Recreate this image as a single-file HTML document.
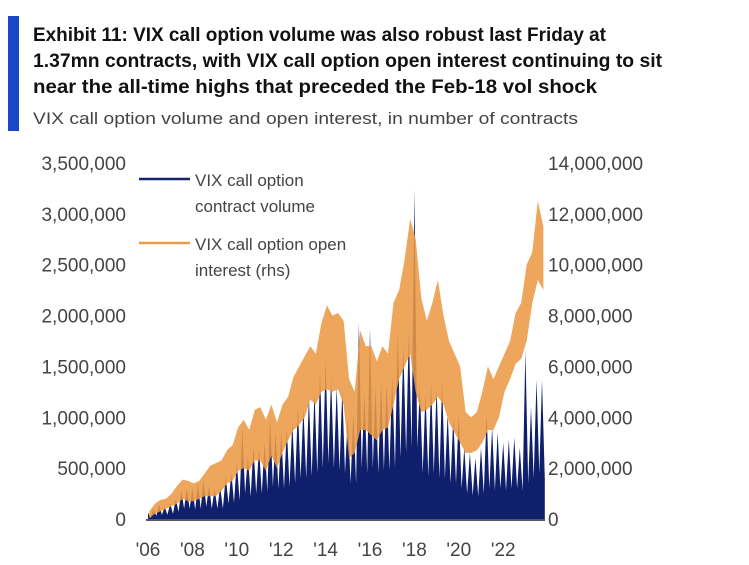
<!DOCTYPE html>
<html><head><meta charset="utf-8"><style>
html,body{margin:0;padding:0;background:#fff;}
svg{display:block;font-family:"Liberation Sans",sans-serif;}
</style></head><body>
<svg id="chart" width="749" height="565" viewBox="0 0 749 565">
<rect x="8" y="16" width="11" height="115" fill="#1a47c8"/>
<g font-weight="bold" font-size="19" fill="#111">
<text x="33" y="41" textLength="573" lengthAdjust="spacingAndGlyphs">Exhibit 11: VIX call option volume was also robust last Friday at</text>
<text x="33" y="67" textLength="629" lengthAdjust="spacingAndGlyphs">1.37mn contracts, with VIX call option open interest continuing to sit</text>
<text x="33" y="93" textLength="564" lengthAdjust="spacingAndGlyphs">near the all-time highs that preceded the Feb-18 vol shock</text>
</g>
<text x="33" y="124" font-size="17" fill="#444" textLength="545" lengthAdjust="spacingAndGlyphs">VIX call option volume and open interest, in number of contracts</text>
<g id="plot"></g>
<g id="axes"></g>
<g font-size="17" fill="#444">
<g>
<line x1="139" y1="179" x2="190" y2="179" stroke="#13236e" stroke-width="2.5"/>
<text x="195" y="186">VIX call option</text>
<text x="195" y="212">contract volume</text>
</g>
<g>
<line x1="139" y1="243" x2="190" y2="243" stroke="#eb9a45" stroke-width="2.5"/>
<text x="195" y="250">VIX call option open</text>
<text x="195" y="276">interest (rhs)</text>
</g>
</g>
</svg>
<script>
// quarterly, starting 2006 Q1; values in thousands of contracts
const startYear = 2006;
const volHigh = [60,100,140,120, 150,200,280,300, 300,350,380,330, 300,320,420,460,
  560,900,620,720, 700,760,1000,850, 850,900,950,1100, 1100,1200,1250,1450,
  1560,1400,1300,1270, 1000,1040,1930,1240, 1870,1300,1370,1350, 1400,1860,1700,1860,
  3240,1300,1250,1350, 1300,1350,1040,1000, 1050,700,650,600, 700,1040,900,850,
  750,780,800,700, 1660,1100,1370,1370];
const volLow = [10,30,40,40, 50,70,100,100, 90,100,120,100, 100,100,150,160,
  180,250,220,250, 250,270,320,300, 300,320,350,400, 400,420,450,500,
  550,500,480,450, 350,350,500,450, 500,450,480,480, 500,600,650,700,
  700,450,420,450, 400,400,350,350, 300,250,230,220, 250,300,280,300,
  280,300,300,280, 350,400,450,400];
const oiHigh = [300,600,750,800, 1000,1300,1550,1500, 1400,1500,1800,2100, 2200,2300,2700,2900,
  3600,3900,3500,4300, 4400,3900,4500,3800, 4500,4800,5600,6000, 6400,6800,6500,7700,
  8400,8000,8100,7800, 5500,5000,7400,6800, 6800,6200,6800,6500, 8500,9000,10200,11800,
  11000,8700,7800,8500, 9400,8000,7000,6500, 6000,4200,4000,4200, 5000,6000,5500,6000,
  6500,7000,8100,8500, 10000,10500,12500,11500];
const oiLow = [50,200,300,400, 500,600,800,700, 700,800,900,900, 900,1100,1400,1500,
  1900,2000,1900,2300, 2300,1900,2500,2000, 2600,3100,3500,3700, 4000,4700,4500,5000,
  5100,5000,5100,4500, 2400,2600,3500,3500, 3300,3100,3500,3600, 4500,5500,6000,6500,
  5000,4200,4300,4500, 4800,4500,3800,3400, 3000,2600,2600,2700, 3000,3500,3500,4000,
  5000,5500,6100,6300, 7000,8500,9400,9000];
const leftTicks = [0,500000,1000000,1500000,2000000,2500000,3000000,3500000];
const rightTicks = [0,2000000,4000000,6000000,8000000,10000000,12000000,14000000];
const xTickYears = [2006,2008,2010,2012,2014,2016,2018,2020,2022];
const xTickLabels = ["'06","'08","'10","'12","'14","'16","'18","'20","'22"];

const NS = "http://www.w3.org/2000/svg";
const y0 = 519, yTop = 163;
const xs = t => 148 + (t - 2006) * 22.2;
const yL = v => y0 - v / 3500000 * (y0 - yTop);
const yR = v => y0 - v / 14000000 * (y0 - yTop);
const plotG = document.getElementById('plot');
const axesG = document.getElementById('axes');
function mk(tag, attrs, parent) {
  const e = document.createElementNS(NS, tag);
  for (const k in attrs) e.setAttribute(k, attrs[k]);
  parent.appendChild(e);
  return e;
}
let volPath = `M${xs(startYear)},${y0}`;
volHigh.forEach((v, i) => {
  const t = startYear + i / 4;
  volPath += ` L${xs(t).toFixed(1)},${yL(v * 1000).toFixed(1)} L${xs(t + 0.125).toFixed(1)},${yL(volLow[i] * 1000).toFixed(1)}`;
});
volPath += ` L${xs(startYear + volHigh.length / 4 - 0.125).toFixed(1)},${y0} Z`;
const volEl = mk('path', {d: volPath, fill: '#0f1f6b'}, plotG);


let topPath = '', botPath = '';
oiHigh.forEach((v, i) => {
  const t = startYear + i / 4 + 0.06;
  topPath += (i ? ' L' : 'M') + xs(t).toFixed(1) + ',' + yR(v * 1000).toFixed(1);
});
for (let i = oiLow.length - 1; i >= 0; i--) {
  const t = startYear + i / 4 + 0.06;
  botPath += ' L' + xs(t).toFixed(1) + ',' + yR(oiLow[i] * 1000).toFixed(1);
}
const oiEl = mk('path', {d: topPath + botPath + ' Z', fill: '#eb9a45', 'fill-opacity': '0.88'}, plotG);


const axLine = mk('line', {x1: 146, y1: y0 + 1, x2: 545, y2: y0 + 1, stroke: '#222', 'stroke-width': 1.5}, axesG);


const fmt = v => v.toLocaleString('en-US');
leftTicks.forEach(v => {
  const t = mk('text', {x: 126, y: yL(v) + 7, 'text-anchor': 'end', 'font-size': 19, fill: '#444'}, axesG);
  t.textContent = fmt(v);
  
  
});
rightTicks.forEach(v => {
  const t = mk('text', {x: 548, y: yR(v) + 7, 'text-anchor': 'start', 'font-size': 19, fill: '#444'}, axesG);
  t.textContent = fmt(v);
  
  
});
xTickYears.forEach((yr, i) => {
  const t = mk('text', {x: xs(yr), y: 556, 'text-anchor': 'middle', 'font-size': 19, fill: '#444'}, axesG);
  t.textContent = xTickLabels[i];
  
  
});
</script>
</body></html>
